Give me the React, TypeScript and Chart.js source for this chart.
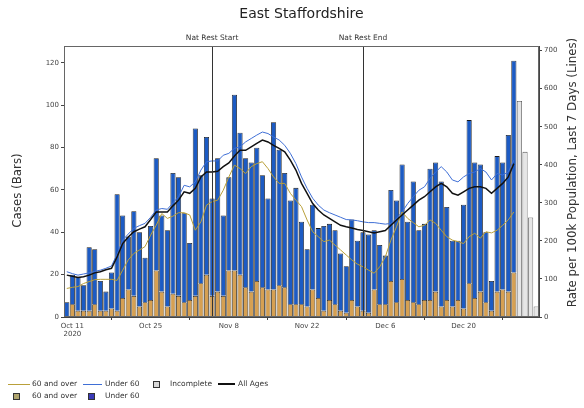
import React, { useEffect, useRef } from 'react';
import { Chart, registerables } from 'chart.js';

Chart.register(...registerables);

const FONT = 'DejaVu Sans';

// Days from 10 Oct 2020 to 2 Jan 2021 (85 days)
const startDate = [2020, 9, 10];
const dayCount = 85;
const categories: string[] = Array.from({ length: dayCount }, (_, i) => {
  const d = new Date(startDate[0], startDate[1], startDate[2] + i);
  return `${d.getFullYear()}-${String(d.getMonth() + 1).padStart(2, '0')}-${String(d.getDate()).padStart(2, '0')}`;
});

const xTickDates = ['2020-10-11', '2020-10-25', '2020-11-08', '2020-11-22', '2020-12-06', '2020-12-20'];
const xTickText: (string | string[])[] = [['Oct 11', '2020'], 'Oct 25', 'Nov 8', 'Nov 22', 'Dec 6', 'Dec 20'];
const leftTicks = [0, 20, 40, 60, 80, 100, 120];
const rightTicks = [0, 100, 200, 300, 400, 500, 600, 700];

const eventDates = ['2020-11-05', '2020-12-02'];
const eventLabels = ['Nat Rest Start', 'Nat Rest End'];

// Daily cases (bars), complete days 10 Oct .. 29 Dec
const cases60Plus = [
  0, 6, 3, 3, 3, 6, 3, 3, 4, 3,
  9, 13, 10, 5, 7, 8, 22, 12, 5, 11,
  10, 7, 8, 10, 16, 20, 10, 12, 10, 22,
  22, 20, 14, 12, 17, 14, 13, 13, 15, 14,
  6, 6, 6, 5, 13, 9, 3, 8, 6, 3,
  2, 8, 5, 3, 2, 13, 6, 6, 17, 7,
  18, 8, 7, 6, 8, 8, 12, 5, 8, 5,
  8, 4, 16, 9, 12, 7, 3, 12, 13, 12,
  21,
];
const casesUnder60 = [
  7, 14, 16, 12, 30, 26, 14, 9, 17, 55,
  39, 25, 40, 35, 21, 35, 53, 36, 36, 57,
  56, 42, 27, 79, 51, 65, 46, 63, 38, 44,
  83, 67, 61, 61, 63, 53, 43, 79, 64, 54,
  49, 55, 39, 27, 40, 33, 40, 36, 35, 27,
  22, 38, 31, 37, 37, 28, 28, 23, 43, 48,
  54, 37, 57, 35, 36, 62, 61, 59, 44, 31,
  28, 49, 77, 64, 60, 33, 14, 64, 60, 74,
  100,
];
// Incomplete days 30 Dec .. 2 Jan
const incompleteDates = ['2020-12-30', '2020-12-31', '2021-01-01', '2021-01-02'];
const incompleteCases = [102, 78, 47, 5];

// 7-day rate per 100k (lines)
const rate60Plus = [
  75, 78, 80, 88, 93, 98, 99, 99, 99, 96,
  123, 150, 167, 176, 185, 215, 241, 272, 259, 265,
  274, 274, 268, 228, 250, 294, 303, 307, 333, 368,
  399, 390, 377, 395, 403, 408, 390, 368, 351, 351,
  325, 307, 290, 255, 224, 211, 198, 202, 189, 176,
  163, 150, 139, 132, 123, 115, 132, 158, 202, 237,
  276, 259, 248, 237, 241, 255, 246, 228, 211, 202,
  198, 193, 211, 220, 207, 224, 221, 228, 241, 255,
  276,
];
const rateUnder60 = [
  119, 114, 110, 113, 116, 120, 123, 128, 134, 165,
  202, 218, 233, 240, 246, 262, 281, 285, 283, 300,
  316, 346, 342, 355, 386, 408, 410, 410, 425, 430,
  443, 447, 460, 469, 478, 486, 482, 473, 465, 451,
  430, 403, 368, 338, 312, 294, 281, 274, 268, 262,
  256, 255, 253, 250, 248, 248, 246, 244, 246, 259,
  276, 298, 316, 333, 342, 364, 381, 395, 381, 360,
  355, 368, 377, 381, 390, 381, 360, 377, 373, 381,
  412,
];
const rateAllAges = [
  110, 107, 104, 106, 110, 116, 119, 124, 128, 158,
  193, 210, 224, 231, 237, 256, 276, 276, 276, 292,
  307, 329, 325, 338, 368, 381, 381, 383, 395, 405,
  423, 438, 438, 447, 456, 465, 460, 451, 443, 434,
  412, 386, 351, 325, 298, 281, 268, 259, 250, 241,
  237, 234, 230, 227, 224, 221, 224, 227, 241, 255,
  268, 281, 294, 307, 316, 329, 342, 351, 342, 325,
  320, 329, 338, 342, 342, 338, 325, 338, 351, 368,
  403,
];

const COL_ORANGE = '#d6a052';
const COL_BLUE = '#1c5bc4';
const COL_LINE60 = '#b9a03a';
const COL_LINEU60 = '#3f6fd6';
const COL_INCOMPLETE = '#e6e6e6';
const AXIS_COL = '#444';

const overlayPlugin = {
  id: 'overlay',
  afterDatasetsDraw(chart: any) {
    const { ctx, chartArea } = chart;
    const xs = chart.scales.x;
    ctx.save();
    ctx.strokeStyle = '#333';
    ctx.lineWidth = 1;
    eventDates.forEach((d) => {
      const idx = categories.indexOf(d);
      const x = Math.round(xs.getPixelForValue(idx)) + 0.5;
      ctx.beginPath();
      ctx.moveTo(x, chartArea.top);
      ctx.lineTo(x, chartArea.bottom);
      ctx.stroke();
    });
    ctx.restore();
  },
  afterDraw(chart: any) {
    const { ctx, chartArea } = chart;
    const xs = chart.scales.x;
    const cx = (chartArea.left + chartArea.right) / 2;
    const cy = (chartArea.top + chartArea.bottom) / 2;
    ctx.save();
    // frame
    ctx.strokeStyle = '#666';
    ctx.lineWidth = 1;
    ctx.strokeRect(chartArea.left + 0.5, chartArea.top + 0.5, chartArea.right - chartArea.left - 1, chartArea.bottom - chartArea.top - 1);
    // title
    ctx.fillStyle = '#222';
    ctx.textAlign = 'center';
    ctx.textBaseline = 'middle';
    ctx.font = `14px "${FONT}"`;
    ctx.fillText('East Staffordshire', cx, 14);
    // event labels
    ctx.font = `7.5px "${FONT}"`;
    ctx.fillStyle = '#333';
    eventDates.forEach((d, k) => {
      const idx = categories.indexOf(d);
      ctx.fillText(eventLabels[k], xs.getPixelForValue(idx), 38);
    });
    // axis titles
    ctx.font = `11.8px "${FONT}"`;
    ctx.fillStyle = '#333';
    ctx.save();
    ctx.translate(18, cy + 9);
    ctx.rotate(-Math.PI / 2);
    ctx.fillText('Cases (Bars)', 0, 0);
    ctx.restore();
    ctx.save();
    ctx.translate(573, cy - 9);
    ctx.rotate(-Math.PI / 2);
    ctx.fillText('Rate per 100k Population, Last 7 Days (Lines)', 0, 0);
    ctx.restore();
    ctx.restore();
  },
};

const legendText: React.CSSProperties = {
  position: 'absolute',
  fontFamily: FONT,
  fontSize: '7.5px',
  lineHeight: '10px',
  color: '#333',
  whiteSpace: 'nowrap',
};

function LegendLine({ x, y, w, color, h = 1 }: any) {
  return <div style={{ position: 'absolute', left: x, top: y - h / 2, width: w, height: h, background: color }} />;
}
function LegendBox({ x, y, color }: any) {
  return (
    <div style={{ position: 'absolute', left: x, top: y - 3.5, width: 7, height: 7, boxSizing: 'border-box', background: color, border: '1px solid #333' }} />
  );
}
function LegendLabel({ x, y, text }: any) {
  return <div style={{ ...legendText, left: x, top: y - 5 }}>{text}</div>;
}

export default function App() {
  const canvasRef = useRef<HTMLCanvasElement | null>(null);

  useEffect(() => {
    const canvas = canvasRef.current;
    if (!canvas) return;
    const incompleteData = categories.map((c) => {
      const k = incompleteDates.indexOf(c);
      return k >= 0 ? incompleteCases[k] : null;
    });
    const tickFont = { family: FONT, size: 7 };
    const chart = new Chart(canvas, {
      type: 'bar',
      data: {
        labels: categories,
        datasets: [
          { type: 'line', label: 'All Ages', data: rateAllAges, yAxisID: 'y1', borderColor: '#111', borderWidth: 1.5, pointRadius: 0, tension: 0, order: 0 } as any,
          { type: 'line', label: '60 and over', data: rate60Plus, yAxisID: 'y1', borderColor: COL_LINE60, borderWidth: 1, pointRadius: 0, tension: 0, order: 0 } as any,
          { type: 'line', label: 'Under 60', data: rateUnder60, yAxisID: 'y1', borderColor: COL_LINEU60, borderWidth: 1, pointRadius: 0, tension: 0, order: 0 } as any,
          { type: 'bar', label: '60 and over', data: cases60Plus, yAxisID: 'y', stack: 'cases', backgroundColor: COL_ORANGE, borderColor: '#1a1a1a', borderWidth: 0.8, barPercentage: 0.92, categoryPercentage: 1, order: 1 } as any,
          { type: 'bar', label: 'Under 60', data: casesUnder60, yAxisID: 'y', stack: 'cases', backgroundColor: COL_BLUE, borderColor: '#1a1a1a', borderWidth: 0.8, barPercentage: 0.92, categoryPercentage: 1, order: 1 } as any,
          { type: 'bar', label: 'Incomplete', data: incompleteData, yAxisID: 'y', stack: 'cases', backgroundColor: COL_INCOMPLETE, borderColor: '#555', borderWidth: 0.8, barPercentage: 0.92, categoryPercentage: 1, order: 1 } as any,
        ],
      },
      options: {
        responsive: false,
        animation: false,
        devicePixelRatio: 1,
        layout: { padding: { top: 46, left: 0, right: 0, bottom: 0 } },
        plugins: { legend: { display: false }, title: { display: false }, tooltip: { enabled: false } },
        scales: {
          x: {
            type: 'category',
            stacked: true,
            offset: true,
            grid: { display: true, drawOnChartArea: false, drawTicks: true, tickLength: 3, color: AXIS_COL },
            border: { display: true, color: AXIS_COL },
            ticks: {
              autoSkip: false,
              maxRotation: 0,
              minRotation: 0,
              padding: 2,
              font: tickFont,
              color: AXIS_COL,
              callback: (_v: any, i: number) => {
                const k = xTickDates.indexOf(categories[i]);
                return k >= 0 ? xTickText[k] : null;
              },
            },
            afterFit: (s: any) => { s.height = 91; },
          } as any,
          y: {
            position: 'left',
            stacked: true,
            min: 0,
            max: 128,
            grid: { display: true, drawOnChartArea: false, drawTicks: true, tickLength: 3, color: AXIS_COL },
            border: { display: true, color: AXIS_COL },
            ticks: { font: tickFont, color: AXIS_COL, padding: 2 },
            afterBuildTicks: (s: any) => { s.ticks = leftTicks.map((v) => ({ value: v })); },
            afterFit: (s: any) => { s.width = 64; },
          } as any,
          y1: {
            position: 'right',
            min: 0,
            max: 712,
            grid: { display: true, drawOnChartArea: false, drawTicks: true, tickLength: 3, color: AXIS_COL },
            border: { display: true, color: AXIS_COL },
            ticks: { font: tickFont, color: AXIS_COL, padding: 2 },
            afterBuildTicks: (s: any) => { s.ticks = rightTicks.map((v) => ({ value: v })); },
            afterFit: (s: any) => { s.width = 45; },
          } as any,
        },
      },
      plugins: [overlayPlugin],
    });
    return () => chart.destroy();
  }, []);

  return (
    <div style={{ position: 'fixed', left: 0, top: 0, width: 584, height: 408, background: '#fff', overflow: 'hidden' }}>
      <canvas ref={canvasRef} width={584} height={408} style={{ display: 'block', width: 584, height: 408 }} />
      <LegendLine x={8} y={384} w={22} color={COL_LINE60} />
      <LegendLabel x={32} y={384} text="60 and over" />
      <LegendLine x={83} y={384} w={19} color={COL_LINEU60} />
      <LegendLabel x={105} y={384} text="Under 60" />
      <LegendBox x={153} y={384} color="#d8d8d8" />
      <LegendLabel x={170} y={384} text="Incomplete" />
      <LegendLine x={218} y={384} w={17} color="#111" h={1.5} />
      <LegendLabel x={238} y={384} text="All Ages" />
      <LegendBox x={13} y={396} color="#b0a56e" />
      <LegendLabel x={32} y={396} text="60 and over" />
      <LegendBox x={88} y={396} color="#3a3ab8" />
      <LegendLabel x={105} y={396} text="Under 60" />
    </div>
  );
}
